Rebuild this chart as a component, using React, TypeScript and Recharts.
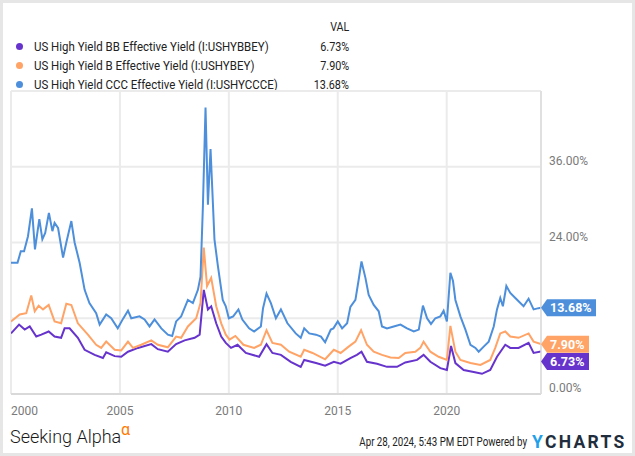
import React from "react";
import { LineChart, Line, XAxis, YAxis, CartesianGrid } from "recharts";

// ICE BofA high yield effective yields, % — [decimal year, value]
const bbYield = [
  [2000.0, 9.6], [2000.37, 11.0], [2000.63, 10.2], [2000.86, 10.7], [2001.16, 9.1],
  [2001.39, 9.4], [2001.73, 9.9], [2002.0, 9.1], [2002.3, 8.9], [2002.46, 10.4],
  [2002.69, 10.4], [2003.07, 8.9], [2003.38, 7.0], [2003.84, 6.2], [2004.22, 5.7],
  [2004.37, 6.6], [2004.76, 6.0], [2005.06, 5.9], [2005.37, 6.7], [2005.83, 7.3],
  [2006.44, 7.9], [2006.74, 7.1], [2007.2, 6.7], [2007.58, 7.9], [2007.97, 8.5],
  [2008.43, 8.9], [2008.66, 9.4], [2008.85, 16.5], [2009.04, 13.4], [2009.19, 13.9],
  [2009.42, 11.2], [2009.65, 9.1], [2009.86, 8.1], [2010.1, 7.3], [2010.4, 7.8],
  [2010.78, 6.5], [2011.39, 5.9], [2011.73, 7.9], [2012.0, 6.5], [2012.39, 6.2],
  [2012.84, 5.1], [2013.3, 4.3], [2013.46, 5.4], [2014.0, 4.9], [2014.42, 4.5],
  [2014.82, 5.1], [2015.13, 4.8], [2015.58, 5.7], [2015.88, 6.2], [2016.09, 6.7],
  [2016.34, 5.1], [2016.8, 4.8], [2017.26, 4.3], [2017.72, 4.3], [2018.1, 5.0],
  [2018.64, 5.4], [2018.94, 6.2], [2019.25, 5.1], [2019.71, 4.1], [2020.01, 3.8],
  [2020.2, 7.6], [2020.4, 4.9], [2020.78, 3.8], [2021.24, 3.5], [2021.62, 3.2],
  [2022.0, 3.8], [2022.31, 5.9], [2022.69, 7.8], [2022.92, 7.3], [2023.3, 7.3],
  [2023.76, 8.1], [2023.99, 6.5], [2024.33, 6.73],
];

const bYield = [
  [2000.0, 11.5], [2000.4, 12.6], [2000.7, 12.8], [2000.93, 15.6], [2001.09, 13.1],
  [2001.27, 14.0], [2001.47, 13.4], [2001.73, 14.1], [2002.0, 11.5], [2002.3, 11.2],
  [2002.54, 14.3], [2002.77, 14.1], [2003.07, 11.2], [2003.53, 9.4], [2003.91, 7.8],
  [2004.14, 7.3], [2004.37, 8.3], [2004.76, 7.0], [2005.06, 6.9], [2005.37, 8.3],
  [2005.6, 7.3], [2005.98, 7.8], [2006.44, 8.5], [2006.74, 7.8], [2007.2, 7.4],
  [2007.58, 9.1], [2007.81, 8.9], [2008.12, 10.7], [2008.5, 12.0], [2008.7, 14.4],
  [2008.85, 23.2], [2009.0, 17.1], [2009.19, 18.4], [2009.42, 13.9], [2009.65, 11.2],
  [2009.86, 9.4], [2010.03, 8.6], [2010.3, 9.2], [2010.67, 7.8], [2011.16, 7.3],
  [2011.47, 7.8], [2011.73, 10.1], [2012.0, 8.1], [2012.39, 7.8], [2012.77, 6.7],
  [2013.3, 5.9], [2013.46, 7.0], [2013.84, 6.5], [2014.42, 5.5], [2014.82, 7.0],
  [2015.13, 6.5], [2015.5, 7.5], [2015.81, 8.3], [2016.07, 10.1], [2016.34, 7.8],
  [2016.65, 6.7], [2017.03, 6.2], [2017.42, 5.8], [2017.8, 5.7], [2018.1, 6.5],
  [2018.56, 6.7], [2018.79, 7.3], [2018.94, 8.3], [2019.25, 6.7], [2019.63, 5.9],
  [2020.01, 5.4], [2020.17, 10.8], [2020.4, 6.7], [2020.63, 5.4], [2021.09, 4.9],
  [2021.55, 4.6], [2022.0, 5.4], [2022.23, 7.3], [2022.46, 9.6], [2022.69, 9.9],
  [2022.92, 9.1], [2023.3, 8.9], [2023.76, 9.6], [2023.99, 8.3], [2024.33, 7.9],
];

const cccYield = [
  [2000.0, 20.8], [2000.3, 20.8], [2000.45, 22.6], [2000.6, 22.6], [2000.78, 25.0],
  [2000.96, 29.4], [2001.1, 22.9], [2001.3, 27.7], [2001.44, 24.5], [2001.57, 25.5],
  [2001.74, 28.7], [2001.9, 25.8], [2002.0, 27.1], [2002.16, 26.3], [2002.39, 21.6],
  [2002.54, 24.0], [2002.77, 27.4], [2002.92, 24.0], [2003.15, 20.8], [2003.38, 16.5],
  [2003.6, 14.4], [2003.91, 12.8], [2004.07, 11.0], [2004.37, 12.6], [2004.6, 12.0],
  [2004.9, 10.4], [2005.14, 11.9], [2005.37, 13.2], [2005.52, 12.0], [2005.9, 12.3],
  [2006.13, 11.8], [2006.36, 10.7], [2006.59, 11.8], [2006.9, 10.4], [2007.2, 9.4],
  [2007.4, 9.2], [2007.58, 11.5], [2007.81, 12.3], [2008.12, 14.9], [2008.35, 14.4],
  [2008.58, 16.5], [2008.7, 18.6], [2008.81, 29.8], [2008.93, 45.4], [2009.04, 30.0],
  [2009.16, 38.8], [2009.34, 24.5], [2009.5, 20.2], [2009.72, 14.9], [2009.86, 13.9],
  [2010.0, 12.0], [2010.2, 12.3], [2010.44, 13.4], [2010.62, 11.8], [2010.93, 10.4],
  [2011.16, 9.9], [2011.47, 10.7], [2011.57, 13.6], [2011.73, 15.9], [2011.93, 14.4],
  [2012.16, 12.0], [2012.39, 13.4], [2012.69, 11.2], [2013.07, 9.6], [2013.3, 8.9],
  [2013.46, 10.4], [2013.69, 9.6], [2014.0, 9.4], [2014.23, 9.1], [2014.42, 8.2],
  [2014.68, 10.2], [2014.8, 10.4], [2015.0, 11.5], [2015.2, 10.4], [2015.43, 11.2],
  [2015.58, 13.8], [2015.81, 14.9], [2015.96, 18.1], [2016.09, 21.0], [2016.27, 18.4],
  [2016.42, 15.7], [2016.65, 14.1], [2016.88, 13.1], [2017.03, 10.7], [2017.26, 10.4],
  [2017.57, 10.7], [2017.88, 11.0], [2018.18, 10.4], [2018.49, 9.9], [2018.72, 10.2],
  [2018.91, 14.0], [2019.1, 12.0], [2019.28, 11.1], [2019.48, 12.0], [2019.71, 12.3],
  [2019.86, 13.2], [2020.01, 11.5], [2020.17, 19.2], [2020.29, 17.9], [2020.4, 14.9],
  [2020.63, 12.3], [2020.86, 10.2], [2021.09, 7.8], [2021.32, 7.3], [2021.47, 6.7],
  [2021.7, 7.5], [2021.93, 8.3], [2022.16, 10.7], [2022.31, 13.4], [2022.46, 15.2],
  [2022.58, 13.9], [2022.74, 17.1], [2022.92, 16.0], [2023.15, 15.2], [2023.53, 13.9],
  [2023.76, 15.1], [2023.99, 13.4], [2024.22, 13.6], [2024.33, 13.68],
];

const seriesNames = [
  "US High Yield BB Effective Yield (I:USHYBBEY)",
  "US High Yield B Effective Yield (I:USHYBEY)",
  "US High Yield CCC Effective Yield (I:USHYCCCE)",
];
const lastValues = ["6.73%", "7.90%", "13.68%"];

const xTicks = [2000, 2005, 2010, 2015, 2020];
const yTicks = [0, 12, 24, 36, 48];
const yLabeled = [0, 24, 36];
const X_START = 2000;
const X_END = 2024.33;

const colors = ["#6633cc", "#ffa366", "#4d8fdb"];
const series = [bbYield, bYield, cccYield];
const tagShift = [10, 0, 0]; // nudge BB tag so it doesn't sit on the B tag

const font = "Roboto, 'Noto Sans', sans-serif";

const toRows = (pts: number[][]) => pts.map(([t, v]) => ({ t, v }));

const XTick = (props: any) => {
  const { x, y, payload, index } = props;
  return (
    <text
      x={x}
      y={y + 19}
      textAnchor={index === 0 ? "start" : "middle"}
      fill="#7a7a7a"
      fontSize={12}
      fontFamily={font}
    >
      {payload.value}
    </text>
  );
};

const YTick = (props: any) => {
  const { x, y, payload } = props;
  if (!yLabeled.includes(payload.value)) return <g />;
  return (
    <text x={x + 6} y={y - 2} fill="#7a7a7a" fontSize={12} fontFamily={font}>
      {payload.value.toFixed(2)}%
    </text>
  );
};

const endTag = (i: number, count: number) => (props: any) => {
  const { x, y, index } = props;
  if (index !== count - 1) return <g key={`tag-${i}-${index}`} />;
  const text = lastValues[i];
  const w = text.length > 5 ? 55 : 48;
  const cy = y + tagShift[i];
  const h = 8.5;
  return (
    <g key={`tag-${i}`}>
      <polygon
        points={`${x},${cy} ${x + 6},${cy - h} ${x + w},${cy - h} ${x + w},${cy + h} ${x + 6},${cy + h}`}
        fill={colors[i]}
      />
      <text
        x={x + 9}
        y={cy + 4.5}
        fill="#fff"
        fontSize={12.5}
        fontWeight={700}
        fontFamily={font}
      >
        {text}
      </text>
    </g>
  );
};

const Narrow = ({ children, k, origin, style }: any) => (
  <span
    style={{
      display: "inline-block",
      whiteSpace: "nowrap",
      transform: `scaleX(${k})`,
      transformOrigin: origin,
      ...style,
    }}
  >
    {children}
  </span>
);

export default function App() {
  return (
    <div
      style={{
        position: "fixed",
        left: 0,
        top: 0,
        width: 635,
        height: 456,
        background: "#fff",
        boxShadow: "inset 0 0 0 3px #e6e6e6",
        fontFamily: font,
        overflow: "hidden",
      }}
    >
      {/* legend */}
      <div style={{ position: "absolute", right: 635 - 349, top: 19, fontSize: 13, color: "#222", lineHeight: "16px" }}>
        <Narrow k={0.82} origin="right">VAL</Narrow>
      </div>
      {seriesNames.map((name, i) => (
        <React.Fragment key={name}>
          <div
            style={{
              position: "absolute",
              left: 15.5,
              top: 42.5 + i * 19,
              width: 7,
              height: 7,
              borderRadius: "50%",
              background: colors[i],
            }}
          />
          <div style={{ position: "absolute", left: 34, top: 38 + i * 19, fontSize: 13.5, color: "#222", lineHeight: "16px" }}>
            <Narrow k={0.85} origin="left">{name}</Narrow>
          </div>
          <div style={{ position: "absolute", right: 635 - 349, top: 38 + i * 19, fontSize: 13.5, color: "#222", lineHeight: "16px" }}>
            <Narrow k={0.8} origin="right">{lastValues[i]}</Narrow>
          </div>
        </React.Fragment>
      ))}

      <div style={{ position: "absolute", left: 0, top: 0 }}>
        <LineChart width={635} height={456} margin={{ top: 91, right: 34, bottom: 32, left: 11 }}>
          <CartesianGrid stroke="#ebebeb" strokeWidth={2} />
          <XAxis
            type="number"
            dataKey="t"
            domain={[X_START, X_END]}
            ticks={xTicks}
            allowDataOverflow
            height={30}
            tickSize={0}
            tickLine={false}
            axisLine={{ stroke: "#d9d9d9", strokeWidth: 2 }}
            tick={<XTick />}
            interval={0}
          />
          <YAxis
            orientation="right"
            type="number"
            domain={[0, 48]}
            ticks={yTicks}
            width={60}
            tickSize={0}
            tickLine={false}
            axisLine={{ stroke: "#dcdcdc", strokeWidth: 1.5 }}
            tick={<YTick />}
            interval={0}
          />
          {series.map((pts, i) => (
            <Line
              key={seriesNames[i]}
              data={toRows(pts)}
              dataKey="v"
              type="linear"
              stroke={colors[i]}
              strokeWidth={2}
              dot={false}
              activeDot={false}
              isAnimationActive={false}
              label={endTag(i, pts.length)}
            />
          ))}
        </LineChart>
      </div>

      {/* footer */}
      <div style={{ position: "absolute", left: 10, top: 425, fontSize: 18, fontWeight: 300, color: "#1a1a1a", lineHeight: "24px", whiteSpace: "nowrap" }}>
        Seeking Alpha
      </div>
      <div style={{ position: "absolute", left: 121, top: 424, color: "#ff7a00", fontSize: 16, lineHeight: "12px" }}>α</div>
      <div style={{ position: "absolute", right: 635 - 527, top: 434, fontSize: 12.5, color: "#222", lineHeight: "16px" }}>
        <Narrow k={0.78} origin="right">Apr 28, 2024, 5:43 PM EDT Powered by</Narrow>
      </div>
      <div style={{ position: "absolute", left: 532, top: 431, fontSize: 17.5, fontWeight: 700, letterSpacing: 2.3, lineHeight: "22px", color: "#1f2d3d" }}>
        <span style={{ color: "#1ea0ea" }}>Y</span>CHARTS
      </div>
    </div>
  );
}
